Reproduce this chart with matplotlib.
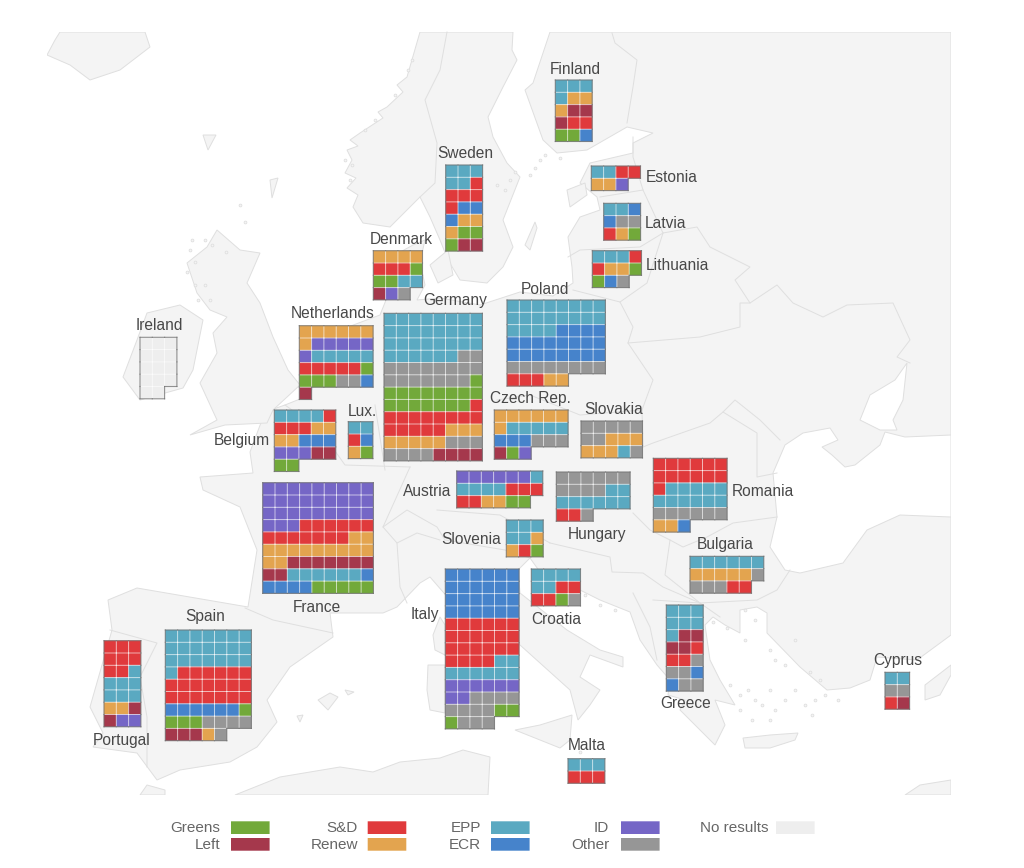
import matplotlib
matplotlib.use("Agg")
import matplotlib.pyplot as plt
from matplotlib.patches import Polygon, Rectangle

plt.rcParams['font.family'] = ['Liberation Sans', 'DejaVu Sans']
plt.rcParams['path.snap'] = False

# seats per country, row by row, one letter per party
finland = ["EEE", "ERR", "RLL", "LSS", "GGC"]
sweden = ["EEE", "EES", "SSS", "SCC", "CRR", "RGG", "GLL"]
estonia = ["EESS", "RRI"]
latvia = ["EEC", "COO", "SRG"]
lithuania = ["EEES", "SRRG", "GCO"]
denmark = ["RRRR", "SSSG", "GGEE", "LIO"]
netherlands = ["RRRRRR", "RIIIII", "IEEEEE", "SSSSSG", "GGGOOC", "L"]
germany = ["EEEEEEEE", "EEEEEEEE", "EEEEEEEE", "EEEEEEOO", "OOOOOOOO", "OOOOOOOG",
           "GGGGGGGG", "GGGGGGGS", "SSSSSSSS", "SSSSSRRR", "RRRRROOO", "OOOOLLLL"]
poland = ["EEEEEEEE", "EEEEEEEE", "EEEECCCC", "CCCCCCCC", "CCCCCCCC", "OOOOOOOO", "SSSRR"]
ireland = ["NNN", "NNN", "NNN", "NNN", "NN"]
belgium = ["EEEES", "SSSRR", "RRCCC", "IIILL", "GG"]
lux = ["EE", "SC", "RG"]
czech = ["RRRRRR", "REEEEE", "CCCOOO", "LGI"]
slovakia = ["OOOOO", "OORRR", "RRREO"]
austria = ["IIIIIIE", "EEEESSS", "SSRRGG"]
hungary = ["OOOOOO", "OOOOEE", "EEEEEE", "SSO"]
romania = ["SSSSSS", "SSSSSS", "SEEEEE", "EEEEEE", "OOOOOO", "RRC"]
slovenia = ["EEE", "EER", "RSG"]
bulgaria = ["EEEEEE", "RRRRRO", "OOOSS"]
france = ["IIIIIIIII", "IIIIIIIII", "IIIIIIIII", "IIISSSSSS", "SSSSSSSRR",
          "RRRRRRRRR", "RRLLLLLLL", "LLEEEEEEC", "CCCCGGGGG"]
italy = ["CCCCCC", "CCCCCC", "CCCCCC", "CCCCCC", "SSSSSS", "SSSSSS", "SSSSSS",
         "SSSSEE", "EEEEEE", "IIIIII", "IIOOOO", "OOOOGG", "GOOO"]
croatia = ["EEEE", "EESS", "SSGO"]
spain = ["EEEEEEE", "EEEEEEE", "EEEEEEE", "ESSSSSS", "SSSSSSS", "SSSSSSS",
         "CCCCCCG", "GGGOOOO", "LLLRO"]
portugal = ["SSS", "SSS", "SSE", "EEE", "EEE", "RRL", "LII"]
greece = ["EEE", "EEE", "ELL", "LLS", "SSO", "OOC", "COO"]
cyprus = ["EE", "OO", "SL"]
malta = ["EEE", "SSS"]

party_colors = {"G": "#72a93a", "L": "#a5384c", "S": "#e03a3c", "R": "#e3a44f",
                "E": "#5aa9c1", "C": "#4683cb", "I": "#7566c6", "O": "#969696", "N": "#eeeeee"}

# name, cells, grid left, grid top, label x, label y, alignment
countries = [
    ("Finland", finland, 555.3, 80, 575, 69, "center"),
    ("Sweden", sweden, 445.7, 165, 465, 154, "center"),
    ("Estonia", estonia, 591.3, 166, 645.5, 178, "left"),
    ("Latvia", latvia, 603.7, 203.3, 645, 223, "left"),
    ("Lithuania", lithuania, 592.3, 250.7, 646, 265, "left"),
    ("Denmark", denmark, 373.3, 250.7, 401, 240, "center"),
    ("Germany", germany, 384, 313.3, 455, 301, "center"),
    ("Poland", poland, 507, 300, 545, 289, "center"),
    ("Netherlands", netherlands, 299.3, 325.7, 333, 314, "center"),
    ("Ireland", ireland, 140, 337.3, 159, 325, "center"),
    ("Belgium", belgium, 274.3, 410, 270, 440, "right"),
    ("Lux.", lux, 348.3, 421.7, 362, 412, "center"),
    ("Czech Rep.", czech, 494.3, 410, 530, 399, "center"),
    ("Slovakia", slovakia, 581, 421, 614, 409, "center"),
    ("Austria", austria, 456.7, 471, 451, 491, "right"),
    ("Romania", romania, 653.3, 458.3, 732, 491, "left"),
    ("Hungary", hungary, 556.3, 472, 597, 534, "center"),
    ("Slovenia", slovenia, 506.3, 520, 501, 539, "right"),
    ("Bulgaria", bulgaria, 690, 556.3, 725, 545, "center"),
    ("France", france, 262.7, 482.7, 317, 607, "center"),
    ("Italy", italy, 445.3, 569, 439, 614, "right"),
    ("Croatia", croatia, 531.3, 569, 556, 619, "center"),
    ("Spain", spain, 165.3, 630, 205, 617, "center"),
    ("Portugal", portugal, 104, 640.7, 122, 740, "center"),
    ("Greece", greece, 666.3, 605, 686, 703, "center"),
    ("Cyprus", cyprus, 885, 672.3, 898, 660, "center"),
    ("Malta", malta, 568, 758.7, 587, 746, "center"),
]

legend_labels = [("Greens", "G"), ("Left", "L"), ("S&D", "S"), ("Renew", "R"),
                 ("EPP", "E"), ("ECR", "C"), ("ID", "I"), ("Other", "O"), ("No results", "N")]
legend_spots = [(231, 821.3), (231, 838), (367.7, 821.3), (367.7, 838), (491, 821.3),
                (491, 838), (621, 821.3), (621, 838), (776, 821.3)]
legend_text_right = [220.5, 220.5, 358, 358, 481, 481, 609, 609, 768]

# rough base map, traced in picture pixels
mainland = [(550, 32), (951, 32), (951, 635), (917, 660), (877, 657), (870, 680), (850, 688), (827, 690),
            (800, 667), (767, 633), (767, 613), (757, 607), (740, 610), (740, 633), (725, 625), (713, 617),
            (705, 625), (710, 660), (720, 680), (735, 705), (715, 700), (725, 725), (715, 745), (700, 730),
            (680, 710), (685, 700), (668, 695), (670, 680), (657, 665), (640, 640), (630, 612), (600, 600),
            (580, 590), (540, 572), (530, 558), (518, 570), (520, 593), (567, 630), (600, 650), (623, 657),
            (623, 667), (590, 655), (580, 677), (600, 690), (590, 705), (578, 720), (570, 690), (550, 672),
            (520, 645), (490, 625), (450, 600), (430, 577), (420, 583), (397, 607), (383, 613), (330, 613),
            (333, 637), (290, 667), (267, 700), (277, 722), (257, 747), (230, 762), (180, 770), (157, 780),
            (137, 753), (93, 747), (103, 733), (90, 707), (112, 630), (108, 600), (137, 588), (248, 607),
            (257, 550), (240, 507), (203, 490), (200, 477), (253, 473), (250, 452), (265, 412), (285, 405),
            (310, 395), (320, 365), (340, 330), (380, 315), (388, 295), (385, 270), (395, 255), (413, 245),
            (425, 240), (420, 262), (425, 285), (417, 300), (440, 298), (480, 305), (520, 292), (553, 296),
            (573, 283), (572, 267), (568, 237), (580, 217), (600, 210), (597, 197), (580, 183), (590, 163),
            (633, 153), (633, 143), (653, 133), (627, 127), (587, 150), (557, 153), (543, 140), (525, 90),
            (533, 83)]
scandinavia = [(420, 32), (407, 77), (397, 85), (403, 92), (387, 107), (378, 112), (383, 118), (360, 133),
               (350, 140), (358, 146), (347, 150), (352, 160), (345, 173), (356, 178), (347, 188), (358, 195),
               (353, 207), (363, 223), (390, 227), (407, 210), (420, 197), (430, 217), (440, 240), (448, 260),
               (460, 280), (487, 283), (503, 267), (513, 247), (503, 220), (520, 177), (507, 163), (493, 137),
               (488, 117), (503, 87), (517, 60), (512, 50), (513, 32)]
britain = [(217, 230), (240, 250), (260, 253), (247, 283), (260, 303), (273, 337), (288, 370), (300, 385),
           (273, 410), (267, 423), (225, 425), (190, 435), (217, 420), (200, 383), (217, 353), (213, 333),
           (227, 317), (210, 310), (197, 293), (187, 263), (207, 247)]
eire = [(180, 305), (203, 320), (193, 370), (183, 388), (140, 400), (123, 377), (137, 340), (147, 313)]
iceland = [(60, 32), (145, 32), (150, 47), (120, 70), (90, 80), (70, 65), (47, 55), (55, 40)]
africa = [(235, 795), (280, 777), (340, 767), (373, 772), (400, 762), (440, 758), (463, 750), (490, 757), (488, 795)]
morocco = [(147, 785), (165, 790), (165, 795), (140, 795)]
libya = [(905, 795), (920, 785), (951, 780), (951, 795)]
islands = [[(203, 135), (216, 135), (208, 150)], [(270, 180), (278, 178), (272, 198)],
           [(318, 700), (330, 693), (338, 697), (328, 710)], [(345, 690), (354, 692), (348, 695)],
           [(297, 716), (303, 715), (300, 722)],
           [(440, 617), (445, 625), (445, 655), (435, 650), (433, 635)],
           [(428, 665), (445, 665), (445, 713), (430, 710), (427, 690)],
           [(515, 730), (540, 725), (572, 715), (570, 740), (560, 748), (535, 738)],
           [(743, 738), (770, 735), (798, 733), (795, 740), (770, 748), (745, 748)],
           [(925, 685), (951, 665), (951, 675), (940, 695), (925, 700)],
           [(525, 245), (535, 222), (537, 228), (530, 250)], [(567, 190), (585, 183), (587, 195), (570, 207)],
           [(430, 265), (448, 250), (453, 275), (438, 283)]]
islets = [(713, 622), (745, 610), (727, 628), (745, 640), (755, 620), (770, 650), (775, 660), (785, 665),
          (795, 640), (730, 685), (740, 695), (748, 690), (755, 700), (762, 705), (770, 690), (775, 710),
          (785, 700), (795, 690), (805, 705), (810, 672), (820, 680), (812, 715), (825, 695), (838, 700),
          (815, 700), (770, 720), (740, 710), (752, 720), (190, 250), (195, 262), (187, 272), (195, 285),
          (198, 300), (205, 240), (192, 240), (205, 285), (210, 300), (245, 222), (240, 205), (585, 595),
          (600, 605), (615, 610), (510, 180), (515, 172), (505, 190), (497, 185), (560, 158), (545, 155),
          (535, 168), (530, 175), (540, 160), (352, 165), (350, 180), (345, 160), (365, 130), (375, 120),
          (395, 95), (408, 70), (412, 60), (226, 252), (212, 245), (572, 760), (580, 752)]
black_sea = [(785, 570), (770, 547), (777, 517), (773, 473), (785, 445), (803, 433), (830, 428), (838, 440),
             (822, 447), (832, 455), (845, 467), (855, 465), (880, 445), (885, 432), (905, 437), (951, 435),
             (951, 517), (900, 515), (867, 530), (843, 563), (800, 573)]
azov = [(907, 363), (895, 380), (870, 395), (860, 420), (880, 430), (897, 430), (893, 420), (903, 400)]
borders = [[(612, 33), (615, 43), (637, 60), (633, 87), (627, 123)],
           [(633, 137), (633, 157), (643, 190), (663, 233), (697, 227), (710, 247), (750, 267), (735, 280), (750, 303),
            (777, 285), (793, 303), (823, 317), (847, 305), (893, 303), (910, 340), (897, 357), (910, 363)],
           [(620, 302), (633, 327), (628, 343), (653, 380), (642, 410), (643, 447)],
           [(628, 343), (700, 337), (740, 327), (740, 303), (750, 303)],
           [(663, 233), (647, 283), (620, 302), (573, 290)],
           [(568, 257), (580, 250), (640, 247), (663, 233)], [(600, 197), (643, 190)],
           [(643, 447), (653, 443), (710, 423), (723, 412), (757, 433), (757, 477), (777, 473)],
           [(723, 412), (735, 400), (760, 420), (780, 440)],
           [(670, 540), (683, 547), (707, 537), (733, 523), (777, 517)],
           [(633, 513), (650, 530), (670, 540), (665, 575), (700, 603), (757, 600), (777, 590), (790, 570)],
           [(550, 543), (610, 557), (612, 572), (643, 573), (663, 587), (700, 603)],
           [(633, 593), (650, 627), (657, 660)], [(653, 600), (700, 603), (720, 617)],
           [(245, 608), (273, 620), (333, 633)],
           [(110, 630), (157, 643), (140, 677), (147, 717), (147, 767)],
           [(410, 467), (383, 527), (397, 543), (400, 587), (407, 603)],
           [(383, 527), (407, 510), (437, 527), (445, 540), (505, 550), (530, 558)],
           [(397, 543), (417, 533), (440, 540)], [(437, 510), (500, 515), (550, 543)],
           [(497, 400), (530, 395), (580, 415), (642, 410)], [(375, 405), (385, 470)],
           [(285, 405), (320, 430), (345, 465), (410, 467)],
           [(420, 197), (435, 183), (437, 143), (425, 100), (440, 70), (447, 32)]]

fig = plt.figure(figsize=(10.24, 8.68), dpi=100)
ax = fig.add_axes([0, 0, 1, 1])
ax.set_xlim(0, 1024)
ax.set_ylim(868, 0)
ax.axis("off")

land_color = "#f4f4f4"
line_color = "#dfdfdf"
map_clip = Rectangle((47, 32), 904, 763, transform=ax.transData)
for shape in [mainland, scandinavia, britain, eire, iceland, africa, morocco, libya] + islands:
    patch = ax.add_patch(Polygon(shape, closed=True, facecolor=land_color, edgecolor=line_color, lw=0.7, zorder=1))
    patch.set_clip_path(map_clip)
for shape in [black_sea, azov]:
    patch = ax.add_patch(Polygon(shape, closed=True, facecolor="white", edgecolor=line_color, lw=0.7, zorder=1))
    patch.set_clip_path(map_clip)
for line in borders:
    ax.plot([p[0] for p in line], [p[1] for p in line], color=line_color, lw=0.7, zorder=2)
ax.scatter([p[0] for p in islets], [p[1] for p in islets], s=4, facecolor=land_color, edgecolor=line_color,
           linewidths=0.6, zorder=2)

cell = 12.3
for name, rows, left, top, label_x, label_y, align in countries:
    for r, row in enumerate(rows):
        for c, code in enumerate(row):
            x0 = left + c * cell
            y0 = top + r * cell
            ax.add_patch(Rectangle((x0, y0), cell, cell, facecolor=party_colors[code],
                                   edgecolor=party_colors[code], lw=0.2, zorder=3))
    # thin light inner grid, then darker outline on the outside of the shape
    for r, row in enumerate(rows):
        for c in range(len(row)):
            x0 = left + c * cell
            y0 = top + r * cell
            if c > 0:
                ax.plot((x0, x0), (y0, y0 + cell), color="white", lw=0.7, alpha=0.6, zorder=4)
            if r > 0 and c < len(rows[r - 1]):
                ax.plot((x0, x0 + cell), (y0, y0), color="white", lw=0.7, alpha=0.6, zorder=4)
            sides = []
            if r == 0 or c >= len(rows[r - 1]):
                sides.append(((x0, x0 + cell), (y0, y0)))
            if r == len(rows) - 1 or c >= len(rows[r + 1]):
                sides.append(((x0, x0 + cell), (y0 + cell, y0 + cell)))
            if c == 0:
                sides.append(((x0, x0), (y0, y0 + cell)))
            if c == len(row) - 1:
                sides.append(((x0 + cell, x0 + cell), (y0, y0 + cell)))
            for xs, ys in sides:
                ax.plot(xs, ys, color="#707070", lw=0.8, alpha=0.75, solid_capstyle="projecting", zorder=5)
    ax.text(label_x, label_y, name, ha=align, va="center", fontsize=11.2, color="#484848", zorder=6)

for (label, code), (x0, y0), right in zip(legend_labels, legend_spots, legend_text_right):
    ax.add_patch(Rectangle((x0, y0), 38.6, 12.7, facecolor=party_colors[code], edgecolor="none"))
    ax.text(right, y0 + 7, label, ha="right", va="center", fontsize=11, color="#666666")

fig.savefig("out.png", dpi=100)
